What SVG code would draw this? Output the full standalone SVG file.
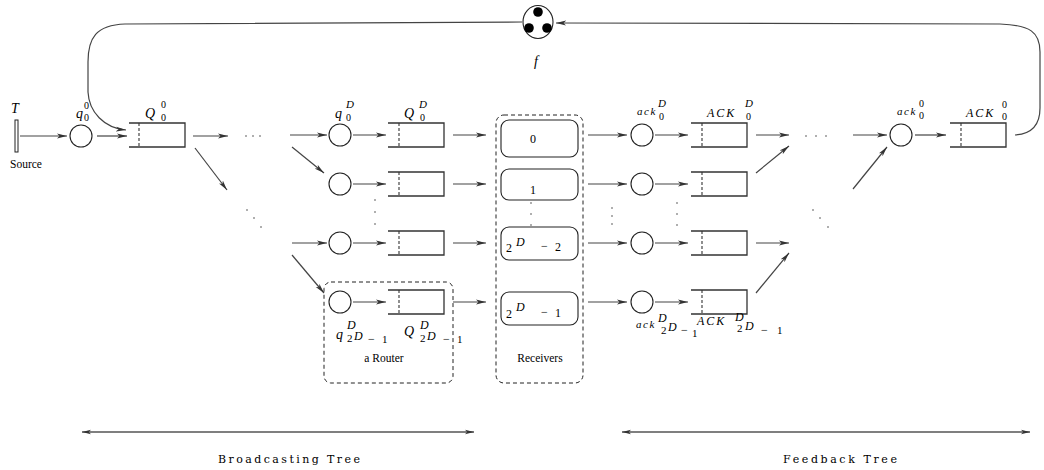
<svg xmlns="http://www.w3.org/2000/svg" width="1044" height="470" viewBox="0 0 1044 470">
<style>
.bg{fill:#fff}
.ln{stroke:#444;stroke-width:1.2;fill:none}
.arr{marker-end:url(#ah)}
.dbl{stroke:#555;stroke-width:1.6;fill:none;marker-end:url(#ah2);marker-start:url(#ah2)}
.circ{fill:#fff;stroke:#222;stroke-width:1.1}
.queue{fill:none;stroke:#333;stroke-width:1.3}
.qdash{stroke:#333;stroke-width:1.1;stroke-dasharray:3,2;fill:none}
.rbox{fill:#fff;stroke:#222;stroke-width:1.1}
.grp{fill:none;stroke:#222;stroke-width:1;stroke-dasharray:4,3}
.mi{font-family:"Liberation Serif",serif;font-style:italic;font-size:14px;fill:#000}
.ms{font-family:"Liberation Serif",serif;font-style:italic;font-size:12px;fill:#000}
.sup{font-family:"Liberation Serif",serif;font-style:italic;font-size:11px;fill:#000}
.sd{font-family:"Liberation Serif",serif;font-size:11px;fill:#000}
.sb{font-family:"Liberation Serif",serif;font-size:10px;fill:#000}
.ack{font-family:"Liberation Serif",serif;font-style:italic;font-size:11px;letter-spacing:1.5px;fill:#000}
.ACK{font-family:"Liberation Serif",serif;font-style:italic;font-size:12px;letter-spacing:2px;fill:#000}
.rm{font-family:"Liberation Serif",serif;font-size:11.5px;fill:#000}
.num{font-family:"Liberation Serif",serif;font-size:12px;fill:#000}
.title{font-family:"DejaVu Serif",serif;font-size:11px;fill:#000}
</style>
<defs>
<marker id="ah" viewBox="0 0 10 6" refX="10" refY="3" markerWidth="10" markerHeight="6" markerUnits="userSpaceOnUse" orient="auto"><path d="M0,0.6 L10,3 L0,5.4 L2.5,3 z" fill="#333"/></marker>
<marker id="ah2" viewBox="0 0 10 6" refX="10" refY="3" markerWidth="9" markerHeight="6" markerUnits="userSpaceOnUse" orient="auto-start-reverse"><path d="M0,0.6 L10,3 L0,5.4 L2.5,3 z" fill="#333"/></marker>
<g id="queue-shape"><path d="M0,0 H56 V24 H0" class="queue"/></g>
</defs>
<rect class="bg" x="0" y="0" width="1044" height="470"/>

<!-- connectors -->
<g id="connectors">
  <path class="ln arr" d="M20,136 H67"/>
  <path class="ln arr" d="M97,136 H127"/>
  <path class="ln arr" d="M522,22 L125,24 C96,25 88,38 88,62 L88,92 C89,112 104,128 126,130"/>
  <path class="ln arr" d="M1015,135 C1032,134 1040,124 1040,108 L1040,52 C1040,32 1030,25 1000,24 L556,23"/>
  <path class="ln arr" d="M193,136 H228"/>
  <path class="ln arr" d="M195,148 L227,190"/>
  <path class="ln arr" d="M290,135 H327"/>
  <path class="ln arr" d="M292,147 L324,173"/>
  <path class="ln arr" d="M292,243 H327"/>
  <path class="ln arr" d="M292,255 L324,293"/>
  <path class="ln arr" d="M353,135 H386"/>
  <path class="ln arr" d="M353,184 H386"/>
  <path class="ln arr" d="M353,243 H386"/>
  <path class="ln arr" d="M353,302 H386"/>
  <path class="ln arr" d="M453,135 H486"/>
  <path class="ln arr" d="M453,184 H486"/>
  <path class="ln arr" d="M453,243 H486"/>
  <path class="ln arr" d="M453,302 H486"/>
  <path class="ln arr" d="M588,135 H627"/>
  <path class="ln arr" d="M588,184 H627"/>
  <path class="ln arr" d="M588,243 H627"/>
  <path class="ln arr" d="M588,302 H627"/>
  <path class="ln arr" d="M655,135 H688"/>
  <path class="ln arr" d="M655,184 H688"/>
  <path class="ln arr" d="M655,243 H688"/>
  <path class="ln arr" d="M655,302 H688"/>
  <path class="ln arr" d="M756,135 H789"/>
  <path class="ln arr" d="M756,173 L789,146"/>
  <path class="ln arr" d="M756,243 H789"/>
  <path class="ln arr" d="M756,293 L789,253"/>
  <path class="ln arr" d="M853,135 H887"/>
  <path class="ln arr" d="M853,189 L887,147"/>
  <path class="ln arr" d="M915,135 H946"/>
  <path class="dbl" d="M82,432 H474"/>
  <path class="dbl" d="M622,432 H1030"/>
</g>

<!-- ellipsis dots -->
<g id="ellipses" fill="#222">
  <circle cx="246" cy="136" r="0.7"/><circle cx="253" cy="136" r="0.7"/><circle cx="260" cy="136" r="0.7"/>
  <circle cx="247" cy="210" r="0.7"/><circle cx="254" cy="218" r="0.7"/><circle cx="261" cy="227" r="0.7"/>
  <circle cx="375" cy="200" r="0.7"/><circle cx="375" cy="212" r="0.7"/><circle cx="375" cy="224" r="0.7"/>
  <circle cx="531" cy="203" r="0.7"/><circle cx="531" cy="214" r="0.7"/><circle cx="531" cy="225" r="0.7"/>
  <circle cx="612" cy="208" r="0.7"/><circle cx="612" cy="216" r="0.7"/><circle cx="612" cy="224" r="0.7"/>
  <circle cx="677" cy="203" r="0.7"/><circle cx="677" cy="214" r="0.7"/><circle cx="677" cy="225" r="0.7"/>
  <circle cx="806" cy="136" r="0.7"/><circle cx="816" cy="136" r="0.7"/><circle cx="826" cy="136" r="0.7"/>
  <circle cx="813" cy="210" r="0.7"/><circle cx="820" cy="218" r="0.7"/><circle cx="828" cy="227" r="0.7"/>
</g>

<!-- source -->
<g id="source">
  <rect x="15" y="120" width="3" height="32" fill="#fff" stroke="#222" stroke-width="1"/>
  <text class="mi" x="11" y="113">T</text>
  <text class="rm" x="10" y="168">Source</text>
</g>

<!-- feedback function f -->
<g id="f">
  <ellipse cx="538" cy="22" rx="15" ry="16.5" fill="#fff" stroke="#222" stroke-width="1.1"/>
  <circle cx="538" cy="12" r="4.8" fill="#000"/>
  <circle cx="529" cy="28" r="4.8" fill="#000"/>
  <circle cx="547" cy="28" r="4.8" fill="#000"/>
  <text class="mi" x="534" y="66">f</text>
</g>

<!-- q00 / Q00 -->
<g id="router-0-0">
  <circle class="circ" cx="81" cy="136" r="11"/>
  <text class="mi" x="76" y="118">q</text><text class="sb" x="84" y="109">0</text><text class="sb" x="84" y="121">0</text>
  <use href="#queue-shape" x="129" y="123"/>
  <path class="qdash" d="M139,123 V147"/>
  <text class="mi" x="145" y="118">Q</text><text class="sb" x="161" y="108">0</text><text class="sb" x="161" y="121">0</text>
</g>

<!-- level-D routers -->
<g id="router-D-0">
  <circle class="circ" cx="340" cy="135" r="11"/>
  <text class="mi" x="335" y="118">q</text><text class="sup" x="346" y="108">D</text><text class="sb" x="346" y="121">0</text>
  <use href="#queue-shape" x="388" y="123"/>
  <path class="qdash" d="M399,123 V147"/>
  <text class="mi" x="404" y="118">Q</text><text class="sup" x="419" y="108">D</text><text class="sb" x="420" y="121">0</text>
</g>
<g id="router-D-1">
  <circle class="circ" cx="340" cy="184" r="11"/>
  <use href="#queue-shape" x="388" y="172"/>
  <path class="qdash" d="M399,172 V196"/>
</g>
<g id="router-D-2">
  <circle class="circ" cx="340" cy="243" r="11"/>
  <use href="#queue-shape" x="388" y="231"/>
  <path class="qdash" d="M399,231 V255"/>
</g>
<g id="router-D-last">
  <rect class="grp" x="324" y="282" width="129" height="101" rx="7"/>
  <circle class="circ" cx="340" cy="302" r="11"/>
  <use href="#queue-shape" x="388" y="290"/>
  <path class="qdash" d="M399,290 V314"/>
  <text class="mi" x="336" y="339">q</text><text class="ms" x="347" y="329">D</text>
  <text class="sd" x="347" y="342">2</text><text class="ms" x="354" y="340">D</text><text class="num" x="368" y="343">−</text><text class="sd" x="382" y="343">1</text>
  <text class="mi" x="404" y="336">Q</text><text class="ms" x="420" y="329">D</text>
  <text class="sd" x="420" y="342">2</text><text class="ms" x="427" y="340">D</text><text class="num" x="443" y="343">−</text><text class="sd" x="457" y="343">1</text>
  <text class="rm" x="384" y="362" text-anchor="middle">a Router</text>
</g>

<!-- receivers -->
<g id="receivers">
  <rect class="grp" x="496" y="115" width="87" height="268" rx="8"/>
  <rect class="rbox" x="501" y="120" width="77" height="37" rx="8"/>
  <text class="num" x="533" y="143" text-anchor="middle">0</text>
  <rect class="rbox" x="501" y="169" width="77" height="31" rx="8"/>
  <text class="num" x="533" y="194" text-anchor="middle">1</text>
  <rect class="rbox" x="501" y="227" width="77" height="33" rx="8"/>
  <text class="num" x="506" y="252">2</text><text class="ms" x="516" y="246">D</text><text class="num" x="541" y="250">−</text><text class="num" x="555" y="251">2</text>
  <rect class="rbox" x="501" y="292" width="77" height="33" rx="8"/>
  <text class="num" x="506" y="318">2</text><text class="ms" x="516" y="311">D</text><text class="num" x="541" y="316">−</text><text class="num" x="555" y="317">1</text>
  <text class="rm" x="540" y="362" text-anchor="middle">Receivers</text>
</g>

<!-- feedback level D -->
<g id="ack-D-0">
  <circle class="circ" cx="642" cy="135" r="11"/>
  <text class="ack" x="637" y="115">ack</text><text class="sup" x="658" y="107">D</text><text class="sb" x="659" y="120">0</text>
  <use href="#queue-shape" x="691" y="123"/>
  <path class="qdash" d="M702,123 V147"/>
  <text class="ACK" x="707" y="117">ACK</text><text class="sup" x="745" y="107">D</text><text class="sb" x="746" y="120">0</text>
</g>
<g id="ack-D-1">
  <circle class="circ" cx="642" cy="184" r="11"/>
  <use href="#queue-shape" x="691" y="172"/>
  <path class="qdash" d="M702,172 V196"/>
</g>
<g id="ack-D-2">
  <circle class="circ" cx="642" cy="243" r="11"/>
  <use href="#queue-shape" x="691" y="231"/>
  <path class="qdash" d="M702,231 V255"/>
</g>
<g id="ack-D-last">
  <circle class="circ" cx="642" cy="302" r="11"/>
  <use href="#queue-shape" x="691" y="290"/>
  <path class="qdash" d="M702,290 V314"/>
  <text class="ack" x="636" y="328">ack</text><text class="ms" x="658" y="322">D</text>
  <text class="sd" x="661" y="334">2</text><text class="ms" x="668" y="331">D</text><text class="num" x="681" y="334">−</text><text class="sd" x="692" y="337">1</text>
  <text class="ACK" x="697" y="325">ACK</text><text class="ms" x="735" y="321">D</text>
  <text class="sd" x="737" y="332">2</text><text class="ms" x="745" y="330">D</text><text class="num" x="761" y="334">−</text><text class="sd" x="777" y="334">1</text>
</g>

<!-- feedback level 0 -->
<g id="ack-0-0">
  <circle class="circ" cx="901" cy="135" r="11"/>
  <text class="ack" x="897" y="115">ack</text><text class="sb" x="919" y="107">0</text><text class="sb" x="919" y="119">0</text>
  <use href="#queue-shape" x="950" y="123"/>
  <path class="qdash" d="M961,123 V147"/>
  <text class="ACK" x="966" y="117">ACK</text><text class="sb" x="1002" y="108">0</text><text class="sb" x="1002" y="120">0</text>
</g>

<!-- bottom labels -->
<g id="tree-labels">
  <text class="title" x="218" y="463" textLength="142" lengthAdjust="spacing">Broadcasting Tree</text>
  <text class="title" x="783" y="463" textLength="114" lengthAdjust="spacing">Feedback Tree</text>
</g>
</svg>
